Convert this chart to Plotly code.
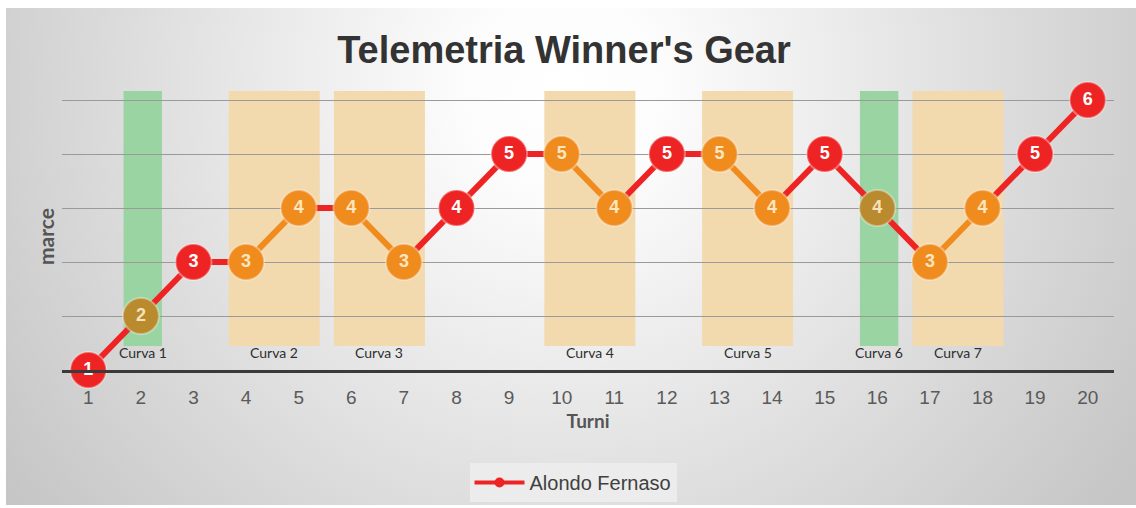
import base64
import plotly.graph_objects as go

# Turns and gear engaged at each turn
turni = list(range(1, 21))
marce = [1, 2, 3, 3, 4, 4, 3, 4, 5, 5, 4, 5, 5, 4, 5, 4, 3, 4, 5, 6]

# Corners: first and last turn spent in each corner
curve_names = ["Curva 1", "Curva 2", "Curva 3", "Curva 4", "Curva 5", "Curva 6", "Curva 7"]
curve_first = [2, 4, 6, 10, 13, 16, 17]
curve_last = [2, 5, 7, 11, 14, 16, 18]
curve_kind = ["g", "o", "o", "o", "o", "g", "o"]

series_name = "Alondo Fernaso"

# ---- styles ----
RED = "#ee2424"
ORANGE = "#f08b1e"
GOLD = "#b98a2e"
BAND_FILL = {"g": "#9ad4a3", "o": "#f3d9ae"}
POINT_FILL = {"g": GOLD, "o": ORANGE}
TEXT_FILL = {"g": "#f6e2b8", "o": "#fbe6c0", None: "#ffffff"}

W, H = 1136, 508
ML, MR, MT, MB = 62, 22, 80, 138
PW, PH = W - ML - MR, H - MT - MB
Y0 = 1.0
PX_PER_GEAR = 54.0
Y1 = Y0 + PH / PX_PER_GEAR


def band_of(t):
    for i, (a, b) in enumerate(zip(curve_first, curve_last)):
        if a <= t <= b:
            return i
    return None


point_band = [band_of(t) for t in turni]
point_kind = [curve_kind[b] if b is not None else None for b in point_band]
point_colors = [POINT_FILL.get(k, RED) if k else RED for k in point_kind]
text_colors = [TEXT_FILL[k] for k in point_kind]

# line segments: orange when both ends sit inside the same orange corner
seg = {RED: ([], []), ORANGE: ([], [])}
for i in range(len(turni) - 1):
    b0, b1 = point_band[i], point_band[i + 1]
    col = ORANGE if (b0 is not None and b0 == b1 and curve_kind[b0] == "o") else RED
    xs, ys = seg[col]
    xs += [turni[i], turni[i + 1], None]
    ys += [marce[i], marce[i + 1], None]

fig = go.Figure()

for col, (xs, ys) in seg.items():
    fig.add_trace(go.Scatter(
        x=xs, y=ys, mode="lines", line=dict(color=col, width=6),
        showlegend=False, hoverinfo="skip", cliponaxis=False,
    ))

fig.add_trace(go.Scatter(
    x=turni, y=marce, mode="markers+text",
    text=[str(v) for v in marce], textposition="middle center",
    textfont=dict(family="Liberation Sans, Arial", size=18, color=text_colors, weight="bold"),
    marker=dict(size=36, color=point_colors,
                line=dict(color="rgba(255,255,255,0.35)", width=2)),
    showlegend=False, cliponaxis=False, name=series_name,
))

# legend entry
fig.add_trace(go.Scatter(
    x=[None], y=[None], mode="lines+markers", name=series_name,
    line=dict(color=RED, width=4), marker=dict(color=RED, size=10),
))

# corner bands and labels
for name, a, b, k in zip(curve_names, curve_first, curve_last, curve_kind):
    x0, x1 = a - 0.33, b + 0.4
    fig.add_shape(type="rect", xref="x", yref="y", x0=x0, x1=x1,
                  y0=Y0 + 24 / PX_PER_GEAR, y1=Y0 + 279 / PX_PER_GEAR,
                  fillcolor=BAND_FILL[k], line_width=0, layer="below")
    fig.add_annotation(x=(x0 + x1) / 2, y=Y0 + 18 / PX_PER_GEAR, xref="x", yref="y",
                       text=name, showarrow=False, yanchor="middle",
                       font=dict(family="Lato", size=14, color="#2e2e2e"))

# y-axis title
fig.add_annotation(x=45, y=237, xref="paper", yref="paper", text="<b>marce</b>",
                   showarrow=False, textangle=-90, xanchor="center", yanchor="middle",
                   font=dict(family="Lato", size=21, color="#555555"))
fig.layout.annotations[-1].update(x=(45 - ML) / PW, y=(H - MB - 237) / PH)

# soft grey radial backdrop
fx0, fy0, fx1, fy1 = 6, 8, W, 505
gw, gh = fx1 - fx0, fy1 - fy0
svg = (
    f'<svg xmlns="http://www.w3.org/2000/svg" width="{gw}" height="{gh}">'
    '<defs><radialGradient id="g" gradientUnits="userSpaceOnUse" '
    f'cx="{564 - fx0}" cy="{90 - fy0}" r="680">'
    '<stop offset="0" stop-color="#ffffff"/>'
    '<stop offset="0.15" stop-color="#fcfcfc"/>'
    '<stop offset="1" stop-color="#c6c6c6"/>'
    '</radialGradient></defs>'
    f'<rect width="{gw}" height="{gh}" fill="url(#g)"/></svg>'
)
src = "data:image/svg+xml;base64," + base64.b64encode(svg.encode()).decode()
fig.add_layout_image(
    source=src, xref="paper", yref="paper",
    x=(fx0 - ML) / PW, y=(H - MB - fy0) / PH,
    sizex=gw / PW, sizey=gh / PH, xanchor="left", yanchor="top",
    sizing="stretch", layer="below",
)

fig.update_layout(
    width=W, height=H,
    margin=dict(l=ML, r=MR, t=MT, b=MB, autoexpand=False),
    paper_bgcolor="#ffffff", plot_bgcolor="rgba(0,0,0,0)",
    title=dict(text="<b>Telemetria Winner's Gear</b>", xref="container", yref="container",
               x=564 / W, y=1 - 50 / H, xanchor="center", yanchor="middle",
               font=dict(family="Liberation Sans, Arial", size=38, color="#333333")),
    xaxis=dict(range=[0.5, 20.5], tickmode="array", tickvals=turni,
               ticktext=[str(t) for t in turni], showgrid=False, zeroline=False,
               showline=True, linecolor="#3a3a3a", linewidth=3, ticks="",
               ticklabelstandoff=8,
               tickfont=dict(family="Liberation Sans, Arial", size=19, color="#5a5a5a"),
               title=dict(text="<b>Turni</b>", standoff=8,
                          font=dict(family="Lato", size=19, color="#555555"))),
    yaxis=dict(range=[Y0, Y1], tickvals=[2, 3, 4, 5, 6], showticklabels=False,
               showgrid=True, gridcolor="#9a9a9a", gridwidth=1, zeroline=False,
               showline=False, ticks=""),
    legend=dict(orientation="h", x=(573 - ML) / PW, xanchor="center",
                y=(H - MB - 463) / PH, yanchor="top", itemwidth=50,
                bgcolor="#ececec", borderwidth=0,
                font=dict(family="Liberation Sans, Arial", size=20, color="#404040")),
    showlegend=True,
)

fig.write_html("out.html")
